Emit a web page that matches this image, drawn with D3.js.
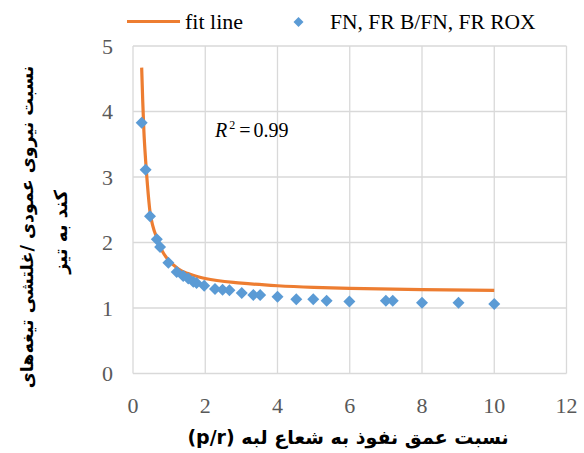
<!DOCTYPE html>
<html>
<head>
<meta charset="utf-8">
<script src="https://cdn.jsdelivr.net/npm/d3@7"></script>
<style>
body{margin:0;background:#fff}
svg{display:block}
.serif{font-family:"Liberation Serif","Times New Roman",serif}
.fa{font-family:"DejaVu Sans",sans-serif;font-weight:bold}
</style>
</head>
<body>
<script>
// measured points (p/r , force ratio)
var ptX=[0.24,0.35,0.47,0.66,0.75,0.98,1.21,1.39,1.53,1.67,1.76,1.97,2.27,2.48,2.67,3.01,3.33,3.52,4.0,4.52,4.99,5.36,5.99,7.0,7.19,8.0,9.01,10.0]
var ptY=[3.83,3.11,2.40,2.05,1.93,1.69,1.55,1.49,1.45,1.40,1.38,1.34,1.29,1.28,1.27,1.23,1.20,1.20,1.17,1.135,1.135,1.11,1.10,1.11,1.11,1.08,1.08,1.06]
// fit line
var fitX=[0.24,0.27,0.30,0.35,0.40,0.47,0.55,0.66,0.8,1.0,1.25,1.5,2,3,4,5,6,8,10]
var fitY=[4.67,4.15,3.72,3.25,2.88,2.47,2.25,2.07,1.88,1.72,1.60,1.53,1.45,1.38,1.34,1.315,1.30,1.28,1.27]
var xTicks=[0,2,4,6,8,10,12]
var yTicks=[0,1,2,3,4,5]
var legendNames=["fit line","FN, FR B/FN, FR ROX"]

var W=584,H=453
var svg=d3.select("body").append("svg").attr("width",W).attr("height",H)

var x=d3.scaleLinear().domain([0,12]).range([133,566.5])
var y=d3.scaleLinear().domain([0,5]).range([373.5,46])

var grid=svg.append("g")
grid.selectAll("line.v").data(xTicks).enter().append("line")
  .attr("x1",function(d){return x(d)}).attr("x2",function(d){return x(d)})
  .attr("y1",y(0)).attr("y2",y(5))
  .style("stroke","#d9d9d9").style("stroke-width",1.3)
grid.selectAll("line.h").data(yTicks).enter().append("line")
  .attr("y1",function(d){return y(d)}).attr("y2",function(d){return y(d)})
  .attr("x1",x(0)).attr("x2",x(12))
  .style("stroke","#d9d9d9").style("stroke-width",1.3)

svg.append("g").selectAll("text").data(xTicks).enter().append("text")
  .attr("class","serif")
  .attr("x",function(d){return x(d)}).attr("y",413)
  .attr("text-anchor","middle")
  .style("font-size","22px").style("fill","#595959")
  .text(function(d){return d})
svg.append("g").selectAll("text").data(yTicks).enter().append("text")
  .attr("class","serif")
  .attr("x",113).attr("y",function(d){return y(d)+7.5})
  .attr("text-anchor","end")
  .style("font-size","22px").style("fill","#595959")
  .text(function(d){return d})

var fit=fitX.map(function(d,i){return [d,fitY[i]]})
svg.append("path").datum(fit)
  .attr("d",d3.line().x(function(d){return x(d[0])}).y(function(d){return y(d[1])}).curve(d3.curveMonotoneX))
  .style("fill","none").style("stroke","#ed7d31").style("stroke-width",3.2)

var diamond=d3.symbol().type(d3.symbolSquare).size(72)
svg.append("g").selectAll("path").data(ptX).enter().append("path")
  .attr("d",diamond)
  .attr("transform",function(d,i){return "translate("+x(d)+","+y(ptY[i])+") rotate(45)"})
  .style("fill","#5b9bd5")

// legend
svg.append("line").attr("x1",127).attr("x2",180).attr("y1",21.5).attr("y2",21.5)
  .style("stroke","#ed7d31").style("stroke-width",3.2)
svg.append("text").attr("class","serif").attr("x",185).attr("y",29).text(legendNames[0])
  .style("font-size","22px").style("fill","#000")
svg.append("path").attr("d",d3.symbol().type(d3.symbolSquare).size(50))
  .attr("transform","translate(298.5,22) rotate(45)").style("fill","#5b9bd5")
svg.append("text").attr("class","serif").attr("x",330).attr("y",29).text(legendNames[1])
  .style("font-size","21.5px").style("fill","#000")

// R squared
var r2=svg.append("text").attr("class","serif").attr("x",215).attr("y",137)
  .style("font-size","20px").style("fill","#000")
r2.append("tspan").text("R").style("font-style","italic")
r2.append("tspan").text("2").attr("dy",-8).attr("dx",2).style("font-size","12px")
r2.append("tspan").text("=").attr("dy",8).attr("dx",4)
r2.append("tspan").text("0.99").attr("dx",3)

// axis titles
svg.append("text").attr("class","fa").attr("x",348).attr("y",444)
  .attr("text-anchor","middle").attr("direction","rtl")
  .style("font-size","19px")
  .text("نسبت عمق نفوذ به شعاع لبه (p/r)")
var yt=svg.append("g").attr("transform","translate(0,227) rotate(-90)")
yt.append("text").attr("class","fa").attr("x",0).attr("y",33)
  .attr("text-anchor","middle").attr("direction","rtl")
  .style("font-size","17.5px")
  .text("نسبت نیروی عمودی /غلتشی تیغه‌های")
yt.append("text").attr("class","fa").attr("x",-5).attr("y",67)
  .attr("text-anchor","middle").attr("direction","rtl")
  .style("font-size","18px")
  .text("کند به تیز")
</script>
</body>
</html>
